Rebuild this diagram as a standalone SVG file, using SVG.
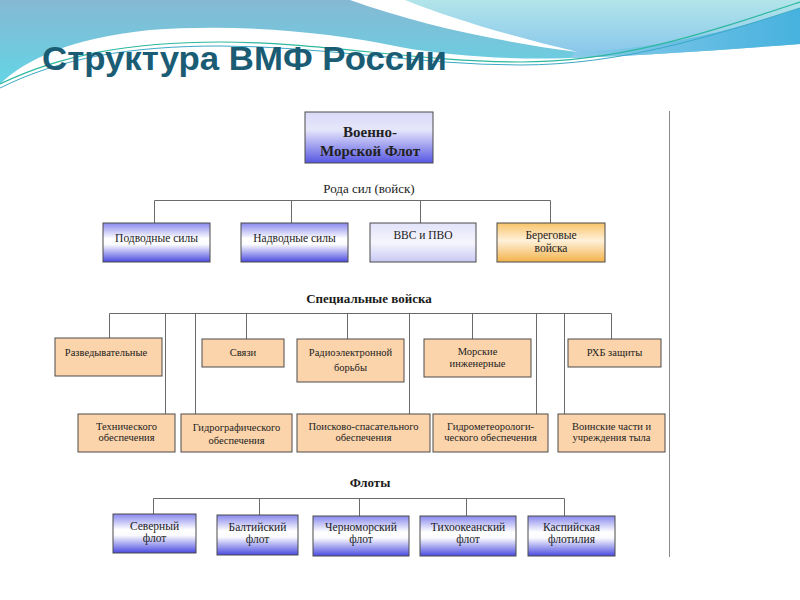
<svg xmlns="http://www.w3.org/2000/svg" width="800" height="600" viewBox="0 0 800 600">
  <defs>
    <linearGradient id="gBg" gradientUnits="userSpaceOnUse" x1="0" y1="0" x2="0" y2="86">
      <stop offset="0" stop-color="#86b9d3"/>
      <stop offset="1" stop-color="#62d5e6"/>
    </linearGradient>
    <linearGradient id="gLight" gradientUnits="userSpaceOnUse" x1="0" y1="0" x2="0" y2="55">
      <stop offset="0" stop-color="#b2e5ea"/>
      <stop offset="1" stop-color="#88c6ea"/>
    </linearGradient>
    <linearGradient id="gBand" gradientUnits="userSpaceOnUse" x1="570" y1="0" x2="800" y2="0">
      <stop offset="0" stop-color="#8ccaea"/>
      <stop offset="1" stop-color="#46b2de"/>
    </linearGradient>
    <linearGradient id="gMain" x1="0" y1="0" x2="0" y2="1">
      <stop offset="0" stop-color="#dadaf8"/>
      <stop offset="0.35" stop-color="#e6e6fb"/>
      <stop offset="1" stop-color="#5656e2"/>
    </linearGradient>
    <linearGradient id="gBlue" x1="0" y1="0" x2="0" y2="1">
      <stop offset="0" stop-color="#8888ee"/>
      <stop offset="0.4" stop-color="#ffffff"/>
      <stop offset="0.55" stop-color="#fbfbff"/>
      <stop offset="1" stop-color="#4a4ae0"/>
    </linearGradient>
    <linearGradient id="gPale" x1="0" y1="0" x2="0" y2="1">
      <stop offset="0" stop-color="#e2e2fa"/>
      <stop offset="0.5" stop-color="#f6f6fe"/>
      <stop offset="1" stop-color="#c8c8f4"/>
    </linearGradient>
    <linearGradient id="gOrange" x1="0" y1="0" x2="0" y2="1">
      <stop offset="0" stop-color="#f8c46a"/>
      <stop offset="0.45" stop-color="#fff1da"/>
      <stop offset="1" stop-color="#f3b24a"/>
    </linearGradient>
    <style>
      .box { stroke: #4a4a4a; stroke-width: 1; }
      .blue { fill: url(#gBlue); }
      .peach { fill: #fcd4ab; }
      .lbl { font-family: "Liberation Serif", "Times New Roman", serif; fill: #222; text-anchor: middle; }
      .s115 { font-size: 11.5px; }
      .s105 { font-size: 10.5px; }
      .hdr { font-family: "Liberation Serif", "Times New Roman", serif; fill: #1a1a1a; text-anchor: middle; }
      .conn { stroke: #6a6a6a; stroke-width: 1; fill: none; }
    </style>
  </defs>

  <!-- slide background -->
  <rect x="0" y="0" width="800" height="600" fill="#ffffff"/>
  <g id="background">
    <path d="M0,84 C25,60 70,38 150,30 C230,24 320,30 400,47 C450,56 510,60 570,58 C650,55 720,50 800,44 V0 H0 Z" fill="url(#gBg)"/>
    <path d="M575,52 C650,50 730,32 800,8 V44 C720,50 650,55 570,58 Z" fill="url(#gBand)"/>
    <path d="M365,0 C430,22 500,42 575,52 C650,50 730,32 800,8 V0 Z" fill="url(#gLight)"/>
    <path d="M350,0 C420,25 500,42 578,52 C510,36 450,18 405,0 Z" fill="#ffffff"/>
    <path d="M0,84 C60,55 130,42 220,42 C320,42 420,62 520,62 C620,62 700,35 800,2" fill="none" stroke="#2cb89e" stroke-width="1.2"/>
    <path d="M0,88 C60,58 130,46 220,46 C320,46 420,65 520,65 C620,65 710,37 800,8" fill="none" stroke="#3aa9c6" stroke-width="1"/>
  </g>

  <text id="title" x="42" y="70" font-family="Liberation Sans, Arial, sans-serif" font-weight="bold" font-size="34" fill="#1a5c74" textLength="405" lengthAdjust="spacingAndGlyphs">Структура ВМФ России</text>

  <!-- picture frame edge -->
  <line x1="669.5" y1="111" x2="669.5" y2="557" stroke="#8a8a8a" stroke-width="1"/>

  <!-- connectors -->
  <g id="connectors" class="conn">
    <path d="M154.5,200.5 H550.5 M154.5,200.5 V223 M291.5,200.5 V223 M420.5,200.5 V223 M550.5,200.5 V223"/>
    <path d="M109.5,313.5 H611.5 M109.5,313.5 V338 M165.5,313.5 V414 M195.5,313.5 V414 M246.5,313.5 V339 M347.5,313.5 V339 M409.5,313.5 V414 M472.5,313.5 V339 M536.5,313.5 V414 M564.5,313.5 V414 M611.5,313.5 V339"/>
    <path d="M153.5,498.5 H564.5 M153.5,498.5 V514 M259.5,498.5 V515 M359.5,498.5 V516 M466.5,498.5 V516 M564.5,498.5 V516"/>
  </g>

  <!-- root -->
  <g id="n-vmf">
    <rect class="box" x="305" y="112" width="128" height="51" fill="url(#gMain)"/>
    <text class="lbl" x="370" y="137" font-size="15" font-weight="bold">Военно-</text>
    <text class="lbl" x="370" y="156" font-size="15" font-weight="bold">Морской Флот</text>
  </g>

  <text id="h-roda" class="hdr" x="369" y="193" font-size="13">Рода сил (войск)</text>

  <g id="n-podvodnye">
    <rect class="box blue" x="103" y="223" width="107" height="39"/>
    <text class="lbl s115" x="156.5" y="242">Подводные силы</text>
  </g>
  <g id="n-nadvodnye">
    <rect class="box blue" x="241" y="223" width="107" height="39"/>
    <text class="lbl s115" x="294.5" y="242">Надводные силы</text>
  </g>
  <g id="n-vvs">
    <rect class="box" x="370" y="223" width="106" height="39" fill="url(#gPale)"/>
    <text class="lbl s115" x="423" y="239">ВВС и ПВО</text>
  </g>
  <g id="n-beregovye">
    <rect class="box" x="497" y="223" width="108" height="39" fill="url(#gOrange)"/>
    <text class="lbl s115" x="551" y="239">Береговые</text>
    <text class="lbl s115" x="551" y="252">войска</text>
  </g>

  <text id="h-spec" class="hdr" x="369" y="303" font-size="13" font-weight="bold">Специальные войска</text>

  <g id="n-razved">
    <rect class="box peach" x="55" y="338" width="107" height="38"/>
    <text class="lbl s105" x="106" y="355.5">Разведывательные</text>
  </g>
  <g id="n-svyazi">
    <rect class="box peach" x="202" y="339" width="82" height="28"/>
    <text class="lbl s105" x="243" y="356">Связи</text>
  </g>
  <g id="n-reb">
    <rect class="box peach" x="297" y="339" width="107" height="43"/>
    <text class="lbl s105" x="350.5" y="356">Радиоэлектронной</text>
    <text class="lbl s105" x="350.5" y="370.5">борьбы</text>
  </g>
  <g id="n-morskie">
    <rect class="box peach" x="424" y="339" width="107" height="38"/>
    <text class="lbl s105" x="477.5" y="355">Морские</text>
    <text class="lbl s105" x="477.5" y="367">инженерные</text>
  </g>
  <g id="n-rhb">
    <rect class="box peach" x="568" y="339" width="93" height="28"/>
    <text class="lbl s105" x="614.5" y="356">РХБ защиты</text>
  </g>

  <g id="n-tech">
    <rect class="box peach" x="78" y="414" width="97" height="38"/>
    <text class="lbl s105" x="126.5" y="429.5">Технического</text>
    <text class="lbl s105" x="126.5" y="440.5">обеспечения</text>
  </g>
  <g id="n-gidrograf">
    <rect class="box peach" x="181" y="414" width="111" height="38"/>
    <text class="lbl s105" x="236.5" y="431">Гидрографического</text>
    <text class="lbl s105" x="236.5" y="444">обеспечения</text>
  </g>
  <g id="n-poisk">
    <rect class="box peach" x="297" y="414" width="133" height="38"/>
    <text class="lbl s105" x="363.5" y="429.5">Поисково-спасательного</text>
    <text class="lbl s105" x="363.5" y="440.5">обеспечения</text>
  </g>
  <g id="n-gidromet">
    <rect class="box peach" x="433" y="414" width="115" height="38"/>
    <text class="lbl s105" x="490.5" y="429.5">Гидрометеорологи-</text>
    <text class="lbl s105" x="490.5" y="440.5">ческого обеспечения</text>
  </g>
  <g id="n-tyl">
    <rect class="box peach" x="558" y="414" width="107" height="38"/>
    <text class="lbl s105" x="611.5" y="429.5">Воинские части и</text>
    <text class="lbl s105" x="611.5" y="440.5">учреждения тыла</text>
  </g>

  <text id="h-floty" class="hdr" x="370" y="487" font-size="13" font-weight="bold">Флоты</text>

  <g id="n-severny">
    <rect class="box blue" x="113" y="514" width="83" height="39"/>
    <text class="lbl s115" x="154.5" y="530">Северный</text>
    <text class="lbl s115" x="154.5" y="542">флот</text>
  </g>
  <g id="n-baltiysky">
    <rect class="box blue" x="217" y="515" width="81" height="40"/>
    <text class="lbl s115" x="257.5" y="530.5">Балтийский</text>
    <text class="lbl s115" x="257.5" y="542.5">флот</text>
  </g>
  <g id="n-chernomorsky">
    <rect class="box blue" x="313" y="516" width="96" height="40"/>
    <text class="lbl s115" x="361" y="531">Черноморский</text>
    <text class="lbl s115" x="361" y="543">флот</text>
  </g>
  <g id="n-tihookeansky">
    <rect class="box blue" x="420" y="516" width="96" height="40"/>
    <text class="lbl s115" x="468" y="531">Тихоокеанский</text>
    <text class="lbl s115" x="468" y="543">флот</text>
  </g>
  <g id="n-kaspiyskaya">
    <rect class="box blue" x="528" y="516" width="87" height="40"/>
    <text class="lbl s115" x="571.5" y="531">Каспийская</text>
    <text class="lbl s115" x="571.5" y="543">флотилия</text>
  </g>
</svg>
